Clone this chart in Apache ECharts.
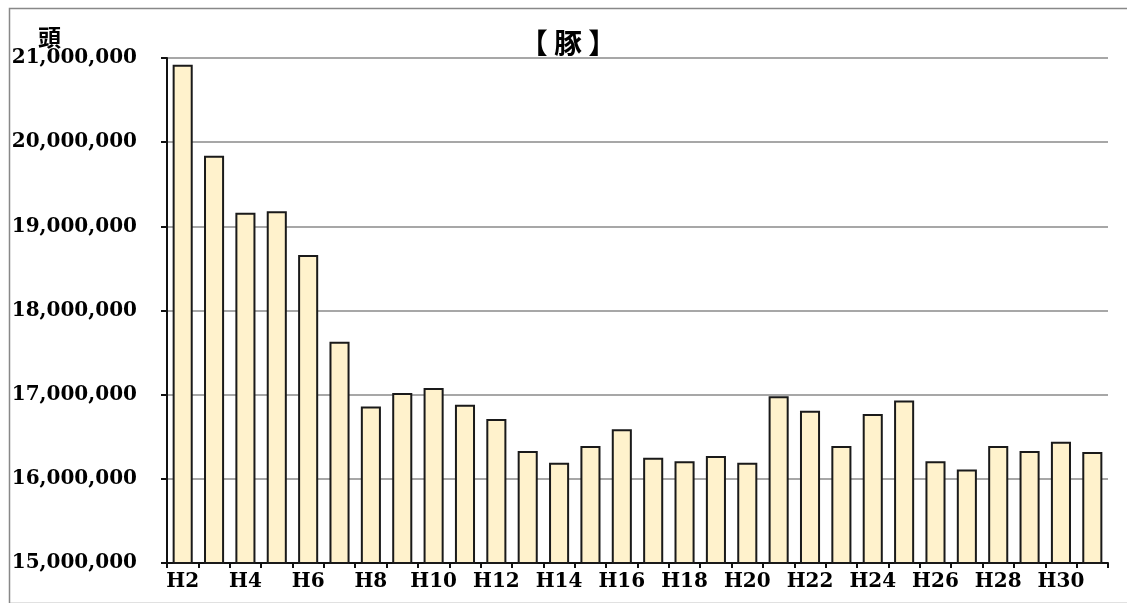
<!DOCTYPE html>
<html>
<head>
<meta charset="utf-8">
<script src="https://cdn.jsdelivr.net/npm/echarts@6/dist/echarts.min.js"></script>
<style>
  html, body { margin: 0; padding: 0; background: #fff; }
  #chart { width: 1127px; height: 603px; }
</style>
</head>
<body>
<div id="chart"></div>
<script>
// Fiscal years (Heisei) and head counts of pigs
const years = ['H2','H3','H4','H5','H6','H7','H8','H9','H10','H11','H12','H13','H14','H15','H16',
               'H17','H18','H19','H20','H21','H22','H23','H24','H25','H26','H27','H28','H29','H30','H31'];
const heads = [20920000, 19840000, 19160000, 19180000, 18660000, 17630000, 16860000, 17020000,
               17080000, 16880000, 16710000, 16330000, 16190000, 16390000, 16590000, 16250000,
               16210000, 16270000, 16190000, 16980000, 16810000, 16390000, 16770000, 16930000,
               16210000, 16110000, 16390000, 16330000, 16440000, 16320000];
const yMin = 15000000;
const yMax = 21000000;
const yStep = 1000000;

const chart = echarts.init(document.getElementById('chart'), null, { renderer: 'canvas' });

const labelFont = { fontFamily: 'DejaVu Serif', fontWeight: 'bold', color: '#000' };

chart.setOption({
  animation: false,
  backgroundColor: '#fff',
  grid: { left: 167, right: 19, top: 58, bottom: 40, containLabel: false },
  title: {
    text: '【 豚 】',
    left: 563, top: 24, textAlign: 'center',
    textStyle: { fontFamily: 'Noto Sans CJK JP', fontWeight: 'bold', fontSize: 28, color: '#000' }
  },
  graphic: [
    { type: 'rect', left: 7, top: 6, shape: { width: 1125, height: 595 },
      style: { fill: 'none', stroke: '#888', lineWidth: 1.5 }, z: -1 },
    { type: 'text', left: 38, top: 26,
      style: { text: '頭', fontFamily: 'Noto Sans CJK JP', fontWeight: 'bold', fontSize: 23, fill: '#000' } }
  ],
  xAxis: {
    type: 'category',
    data: years,
    boundaryGap: true,
    axisLine: { show: true, lineStyle: { color: '#111', width: 2 } },
    axisTick: { show: true, alignWithLabel: false, interval: 0, length: 5, lineStyle: { color: '#111', width: 2 } },
    axisLabel: Object.assign({ interval: 1, fontSize: 20, margin: 9 }, labelFont),
    splitLine: { show: false }
  },
  yAxis: {
    type: 'value',
    min: yMin, max: yMax, interval: yStep,
    axisLine: { show: true, lineStyle: { color: '#111', width: 2 } },
    axisTick: { show: true, length: 6, lineStyle: { color: '#111', width: 2 } },
    axisLabel: Object.assign({
      fontSize: 20, margin: 30,
      formatter: v => v.toLocaleString('en-US')
    }, labelFont),
    splitLine: { show: true, lineStyle: { color: '#8a8a8a', width: 1.5 } }
  },
  series: [{
    type: 'bar',
    data: heads,
    barCategoryGap: '36%',
    itemStyle: { color: '#FFF2CC', borderColor: '#1a1a1a', borderWidth: 2 }
  }]
});
</script>
</body>
</html>
